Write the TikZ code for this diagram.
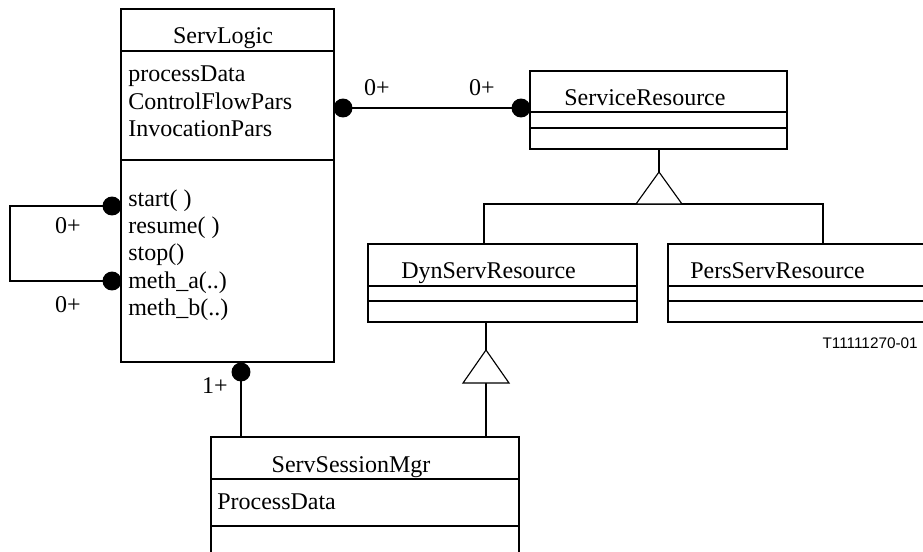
\documentclass[tikz,border=0pt]{standalone}
\usepackage{fontspec}
\setmainfont{Liberation Serif}
\newfontfamily\labelsans{Liberation Sans}
\usetikzlibrary{fit}

\tikzset{
  ln/.style={line width=0.85pt, line cap=rect},
  classbox/.style={draw, ln, inner sep=0pt, fill=none},
  sep/.style={ln},
  txt/.style={inner sep=0pt, font=\fontsize{18}{20}\selectfont},
  lft/.style={txt, anchor=base west},
  mid/.style={txt, anchor=base},
  assocdot/.style={circle, fill=black, inner sep=0pt, minimum size=14.2pt},
  tri/.style={ln, line join=miter, fill=white},
}

\begin{document}
\begin{tikzpicture}[x=0.75pt, y=-0.75pt]
\useasboundingbox (0,0) rectangle (923,551);

% ---------- class ServLogic ----------
\node[classbox, fit={(121,9) (334,362)}] (servlogic) {};
\draw[sep] (121,51) -- (334,51);
\draw[sep] (121,160) -- (334,160);
\node[mid] (slname) at (223,43) {ServLogic};
\node[lft] (sla1) at (128,81)  {processData};
\node[lft] (sla2) at (128,109) {ControlFlowPars};
\node[lft] (sla3) at (128,136) {InvocationPars};
\node[lft] (slm1) at (128,206) {start( )};
\node[lft] (slm2) at (128,233) {resume( )};
\node[lft] (slm3) at (128,260) {stop()};
\node[lft] (slm4) at (128,288) {meth\_a(..)};
\node[lft] (slm5) at (128,315) {meth\_b(..)};

% ---------- class ServiceResource ----------
\node[classbox, fit={(530,71) (787,149)}] (servres) {};
\draw[sep] (530,112) -- (787,112);
\draw[sep] (530,128) -- (787,128);
\node[lft] (srname) at (564,105) {ServiceResource};

% ---------- class DynServResource ----------
\node[classbox, fit={(368,244) (637,322)}] (dynres) {};
\draw[sep] (368,286) -- (637,286);
\draw[sep] (368,301) -- (637,301);
\node[lft] (dyname) at (401,278) {DynServResource};

% ---------- class PersServResource ----------
\node[classbox, fit={(668,244) (927,322)}] (persres) {};
\draw[sep] (668,286) -- (927,286);
\draw[sep] (668,301) -- (927,301);
\node[lft] (psname) at (690,278) {PersServResource};

% ---------- class ServSessionMgr ----------
\node[classbox, fit={(211,437) (519,558)}] (sessmgr) {};
\draw[sep] (211,479) -- (519,479);
\draw[sep] (211,526) -- (519,526);
\node[mid] (smname) at (351,472) {ServSessionMgr};
\node[lft] (sma1) at (217,509) {ProcessData};

% ---------- association ends ----------
\node[assocdot] (dslr) at (343,108) {};
\node[assocdot] (dsr)  at (521,108) {};
\node[assocdot] (dst)  at (112,206) {};
\node[assocdot] (dma)  at (112,281) {};
\node[assocdot] (dslb) at (241,372) {};

% ServLogic -- ServiceResource
\draw[ln] (dslr.center) -- (dsr.center);
\node[mid] (m1) at (377,95) {0+};
\node[mid] (m2) at (482,95) {0+};

% self association of ServLogic
\coordinate (lpt) at (10,206);
\draw[ln] (dst.center) -- (lpt) |- (dma.center);
\node[mid] (m3) at (68,233) {0+};
\node[mid] (m4) at (68,312) {0+};

% ServLogic -- ServSessionMgr
\coordinate (smtop) at (241,437);
\draw[ln] (dslb.center) -- (smtop);
\node[mid] (m5) at (215,393) {1+};

% ---------- generalization: ServiceResource ----------
\coordinate (ga1) at (659,172);
\coordinate (gl1) at (484,204);
\coordinate (gr1) at (823,204);
\draw[ln] (servres.south -| ga1) -- (ga1);
\draw[ln] (gl1 |- dynres.north) -- (gl1) -- (gr1) -- (gr1 |- persres.north);
\draw[tri] (ga1) -- (682,204) -- (636,204) -- cycle;

% ---------- generalization: DynServResource ----------
\coordinate (ga2) at (486,350);
\coordinate (gb2) at (486,383);
\draw[ln] (dynres.south -| ga2) -- (ga2);
\draw[ln] (gb2) -- (gb2 |- sessmgr.north);
\draw[tri] (ga2) -- (509,383) -- (463,383) -- cycle;

% figure reference
\node[inner sep=0pt, anchor=base east, font=\labelsans\fontsize{11.5}{13}\selectfont] (figid) at (918,348) {T11111270-01};
\end{tikzpicture}
\end{document}
